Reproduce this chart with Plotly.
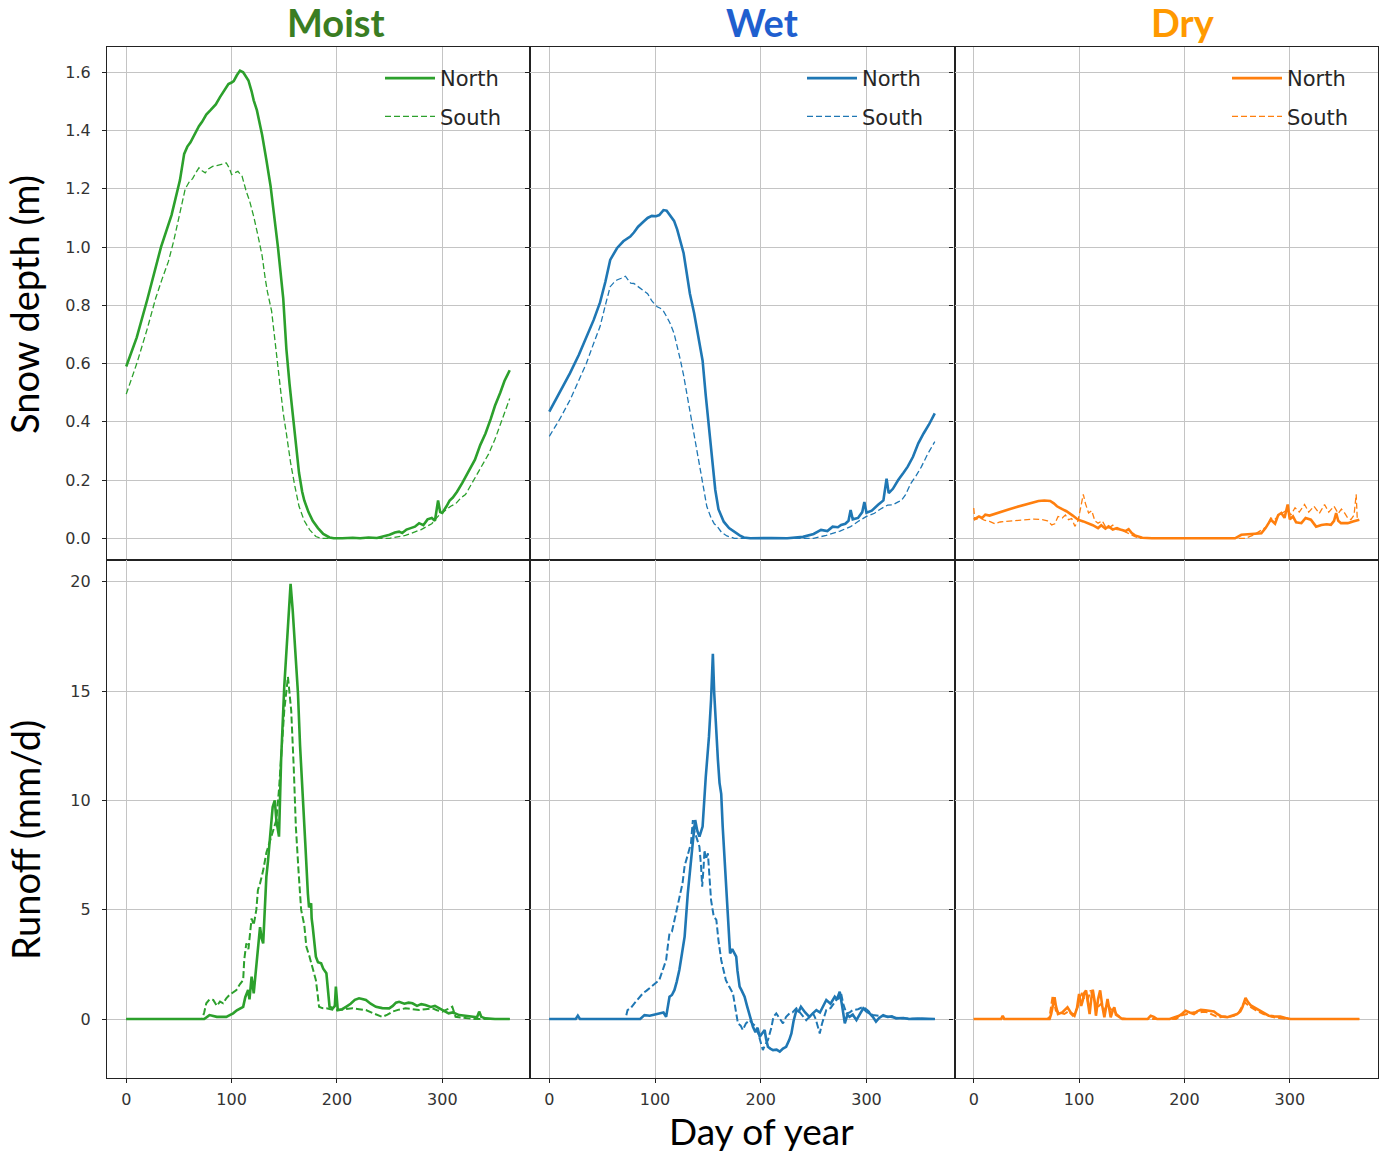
import plotly.graph_objects as go

# ---------------- data: snow depth (m) ----------------
moist_n_snow_day = [0, 10, 20, 33, 43, 51, 55, 58, 61, 65, 69, 72, 76, 80, 85, 89, 93, 97, 100, 102, 105, 108, 111, 114, 116, 119, 121, 124, 127, 129, 133, 137, 140, 144, 149, 152, 155, 158, 161, 164, 167, 169, 173, 177, 182, 187, 193, 197, 205, 215, 222, 230, 238, 245, 250, 255, 259, 262, 266, 270, 274, 278, 282, 286, 290, 293, 296, 298, 300, 304, 307, 310, 314, 319, 325, 331, 336, 341, 346, 350, 355, 359, 364]
moist_n_snow = [0.59, 0.69, 0.82, 1.0, 1.11, 1.23, 1.32, 1.345, 1.36, 1.39, 1.415, 1.43, 1.455, 1.47, 1.49, 1.515, 1.54, 1.56, 1.565, 1.57, 1.59, 1.606, 1.60, 1.585, 1.572, 1.535, 1.504, 1.47, 1.42, 1.385, 1.30, 1.21, 1.12, 1.0, 0.825, 0.65, 0.53, 0.42, 0.32, 0.225, 0.16, 0.13, 0.09, 0.06, 0.035, 0.015, 0.003, 0.0, 0.0, 0.002, 0.0, 0.003, 0.001, 0.008, 0.012, 0.02, 0.023, 0.018, 0.03, 0.035, 0.04, 0.052, 0.045, 0.065, 0.07, 0.06, 0.13, 0.09, 0.087, 0.11, 0.13, 0.14, 0.16, 0.19, 0.23, 0.27, 0.32, 0.36, 0.41, 0.455, 0.5, 0.54, 0.577]

moist_s_snow_day = [0, 10, 20, 28, 34, 40, 45, 49, 53, 56, 60, 63, 66, 69, 72, 75, 78, 82, 86, 90, 95, 98, 100, 103, 106, 110, 114, 117, 121, 125, 129, 132, 134, 138, 142, 146, 149, 152, 156, 160, 164, 169, 174, 180, 185, 250, 265, 280, 290, 297, 303, 308, 313, 318, 322, 330, 338, 344, 350, 355, 360, 364]
moist_s_snow = [0.495, 0.6, 0.72, 0.825, 0.89, 0.95, 1.02, 1.09, 1.16, 1.2, 1.225, 1.235, 1.255, 1.272, 1.262, 1.255, 1.268, 1.277, 1.28, 1.284, 1.289, 1.27, 1.249, 1.255, 1.26, 1.243, 1.19, 1.16, 1.105, 1.04, 0.97, 0.89, 0.847, 0.78, 0.65, 0.52, 0.43, 0.36, 0.26, 0.18, 0.11, 0.06, 0.03, 0.006, 0.0, 0.0, 0.01, 0.03, 0.05, 0.08, 0.098, 0.11, 0.12, 0.14, 0.15, 0.2, 0.25, 0.29, 0.34, 0.39, 0.44, 0.48]

wet_n_snow_day = [0, 10, 19.6, 28, 35, 42, 48, 53, 57.6, 61, 64, 70, 76.6, 80, 84, 89, 93, 97, 101, 104, 106, 108, 111, 113, 116, 118, 121, 124, 127, 130, 133, 137, 141, 145, 148, 151, 154, 157, 160, 163, 165, 170, 175, 180, 184, 190, 210, 225, 240, 250, 257, 263, 268, 273, 276, 280, 283, 285, 287, 292, 296, 298, 300, 305, 311, 316, 319, 321, 325, 330, 335, 339, 344, 349, 354, 359, 364.6]
wet_n_snow = [0.435, 0.5, 0.567, 0.63, 0.69, 0.75, 0.81, 0.88, 0.956, 0.98, 0.996, 1.02, 1.036, 1.05, 1.07, 1.087, 1.1, 1.107, 1.106, 1.11, 1.12, 1.127, 1.125, 1.116, 1.1, 1.09, 1.06, 1.024, 0.98, 0.91, 0.84, 0.773, 0.69, 0.61, 0.49, 0.383, 0.27, 0.166, 0.1, 0.07, 0.057, 0.035, 0.022, 0.01, 0.003, 0.0, 0.001, 0.0, 0.005, 0.015, 0.029, 0.025, 0.04, 0.038, 0.046, 0.05, 0.06, 0.097, 0.065, 0.07, 0.09, 0.125, 0.088, 0.095, 0.115, 0.13, 0.205, 0.155, 0.17, 0.2, 0.225, 0.246, 0.28, 0.326, 0.36, 0.39, 0.429]

wet_s_snow_day = [0, 10, 19.6, 28, 35, 42, 48, 53, 57.6, 61, 64, 68, 72, 74, 77, 80, 85, 89, 93, 97, 99, 102, 105, 108, 111, 114, 118, 121, 124, 127, 130, 133, 137, 140, 143, 146, 149, 153, 156, 159, 163, 168, 175, 250, 262, 275, 285, 293, 300, 307.6, 313, 320, 325, 330, 333, 337, 342, 347, 352, 358, 364.6]
wet_s_snow = [0.35, 0.41, 0.475, 0.54, 0.60, 0.67, 0.727, 0.8, 0.864, 0.878, 0.887, 0.893, 0.9, 0.89, 0.876, 0.875, 0.862, 0.853, 0.84, 0.815, 0.807, 0.795, 0.79, 0.78, 0.761, 0.74, 0.704, 0.66, 0.612, 0.56, 0.498, 0.43, 0.36, 0.29, 0.223, 0.16, 0.109, 0.07, 0.05, 0.04, 0.02, 0.008, 0.0, 0.0, 0.01, 0.025, 0.04, 0.06, 0.075, 0.086, 0.1, 0.114, 0.115, 0.125, 0.13, 0.15, 0.189, 0.215, 0.246, 0.29, 0.332]

dry_n_snow_day = [0, 5, 8, 11, 15, 22, 28, 33, 40, 49, 55, 61.5, 67, 72.6, 76, 79, 84, 88, 94, 99, 104, 109, 113, 118, 121, 125, 128, 132, 136, 140, 144, 147, 150, 153, 156, 160, 169, 248, 254, 265, 273, 277, 282, 286, 289, 292, 295, 298, 300, 303, 306, 311, 315, 320, 325, 330, 335, 339, 342, 344, 346, 348.6, 355, 360, 366]
dry_n_snow = [0.064, 0.075, 0.07, 0.081, 0.078, 0.087, 0.093, 0.099, 0.107, 0.116, 0.122, 0.128, 0.13, 0.128, 0.12, 0.11, 0.1, 0.093, 0.078, 0.064, 0.058, 0.052, 0.045, 0.035, 0.045, 0.033, 0.041, 0.03, 0.035, 0.029, 0.025, 0.031, 0.018, 0.01, 0.006, 0.002, 0.0, 0.0, 0.012, 0.015, 0.017, 0.035, 0.064, 0.05, 0.08, 0.087, 0.07, 0.116, 0.065, 0.075, 0.055, 0.052, 0.07, 0.064, 0.04, 0.046, 0.048, 0.046, 0.06, 0.087, 0.06, 0.052, 0.052, 0.058, 0.064]

dry_s_snow_day = [0, 1, 6, 10, 15, 20, 25, 33, 40, 49, 57, 65, 70, 74, 77, 80, 84, 87, 90, 93, 96, 99, 102, 104, 106, 109, 112, 115, 118, 122, 125, 128, 132, 136, 140, 145, 149, 153, 158, 258, 266, 273, 278, 282, 285.5, 290, 294, 298, 301, 305, 309, 314, 318, 323, 328, 333, 337, 342, 346, 349, 352, 355, 358, 361, 363, 364, 366]
dry_s_snow = [0.104, 0.064, 0.07, 0.062, 0.058, 0.05, 0.056, 0.058, 0.06, 0.064, 0.066, 0.064, 0.06, 0.046, 0.05, 0.075, 0.07, 0.08, 0.064, 0.068, 0.041, 0.06, 0.11, 0.151, 0.12, 0.087, 0.095, 0.06, 0.052, 0.06, 0.04, 0.035, 0.045, 0.03, 0.029, 0.02, 0.012, 0.006, 0.0, 0.0, 0.012, 0.029, 0.04, 0.07, 0.064, 0.08, 0.09, 0.099, 0.08, 0.105, 0.09, 0.116, 0.09, 0.11, 0.085, 0.116, 0.09, 0.11, 0.085, 0.1, 0.087, 0.07, 0.064, 0.08, 0.151, 0.07, 0.064]

# ---------------- data: runoff (mm/d) ----------------
moist_n_run_day = [0, 40, 74, 79, 86, 95, 101.5, 105, 108, 111, 113, 115.7, 117, 119, 121, 123.5, 125, 127, 128.5, 130, 131.5, 133, 134.5, 136, 138, 139, 141, 142.5, 145, 147, 150, 153.5, 156, 158, 160.5, 163, 165, 167.7, 170, 172.4, 173.5, 175.5, 176, 177, 180, 182, 185, 187, 190, 193, 196, 198, 199, 200.8, 205, 208.6, 213, 217, 221, 224, 227.5, 232, 237, 243, 249.6, 253, 256, 259, 264, 268, 271.7, 276, 280, 284, 289, 293, 297, 301, 306, 310, 316, 322, 328, 333, 335, 337, 341, 350, 364]
moist_n_run = [0, 0, 0, 0.18, 0.1, 0.1, 0.26, 0.4, 0.49, 0.56, 1.0, 1.33, 0.9, 1.94, 1.17, 2.7, 3.2, 4.2, 3.7, 3.46, 5.0, 6.5, 7.2, 8.03, 9.0, 9.7, 10.0, 9.1, 8.34, 11.84, 15.2, 17.9, 19.9, 18.7, 17.0, 14.9, 12.5, 10.3, 8.0, 5.75, 5.1, 5.29, 4.6, 4.22, 2.85, 2.6, 2.55, 2.3, 2.09, 0.56, 0.49, 0.6, 1.48, 0.41, 0.45, 0.56, 0.7, 0.88, 0.95, 0.92, 0.87, 0.7, 0.56, 0.5, 0.49, 0.6, 0.75, 0.79, 0.7, 0.75, 0.72, 0.6, 0.68, 0.64, 0.55, 0.6, 0.49, 0.4, 0.26, 0.3, 0.18, 0.15, 0.1, 0.08, 0.34, 0.1, 0.03, 0.0, 0.0]

moist_s_run_day = [0, 72, 74, 76, 79, 82.6, 86, 89, 92, 95, 98, 101, 104.6, 108, 111, 112, 114, 116, 119, 121, 123.5, 125, 127, 130, 133, 137.7, 140, 142.5, 145, 147, 150, 153.5, 155, 156.6, 159, 161, 163.5, 166, 169, 171, 174, 177, 180, 181.5, 183, 186, 190, 196, 202, 208, 215, 221, 227.5, 235, 243, 248, 252.7, 258, 265, 272, 278, 284, 290.6, 295, 300, 305, 309.5, 312.6, 318, 322, 330, 364]
moist_s_run = [0, 0, 0.3, 0.72, 0.9, 0.87, 0.6, 0.8, 0.72, 0.95, 1.1, 1.2, 1.33, 1.6, 1.78, 2.7, 3.46, 3.2, 4.6, 4.3, 5.0, 5.9, 6.2, 6.8, 7.6, 8.34, 8.7, 9.1, 10.5, 11.84, 14.1, 15.65, 15.0, 14.1, 11.5, 8.8, 6.8, 5.0, 4.3, 3.3, 2.85, 2.3, 1.78, 1.2, 0.56, 0.5, 0.49, 0.42, 0.41, 0.45, 0.49, 0.45, 0.41, 0.25, 0.1, 0.2, 0.34, 0.42, 0.49, 0.45, 0.41, 0.45, 0.49, 0.4, 0.34, 0.45, 0.56, 0.1, 0.06, 0.03, 0.0, 0.0]

wet_n_run_day = [0, 25, 27, 29, 86, 90, 95, 100, 104, 108, 110.5, 112, 113.7, 116, 118.4, 120.5, 123, 125.5, 128, 131, 134, 136, 138, 140, 142, 145, 148, 151, 153, 154.7, 156, 157.5, 159.5, 161, 162.6, 164, 165.8, 167.5, 169, 170, 171, 173, 176.8, 178, 180, 182, 184.7, 187, 189, 192.6, 195, 197, 199, 201, 203.7, 205, 206.8, 209, 211.6, 215, 218, 221, 224, 227, 229, 231, 233.7, 236, 238, 242, 246, 249, 252.6, 256, 259, 262, 266, 270, 272, 274.7, 277, 279.5, 282, 284, 287, 290.5, 294, 297, 300, 303, 306, 309, 312, 315.8, 320, 324, 328, 335, 340, 350, 364.7]
wet_n_run = [0, 0, 0.15, 0, 0, 0.18, 0.15, 0.2, 0.26, 0.3, 0.1, 0.5, 1.02, 1.1, 1.33, 1.7, 2.24, 3.0, 3.77, 5.75, 7.42, 8.2, 9.1, 8.6, 8.34, 8.8, 11.08, 12.9, 14.6, 16.7, 14.9, 13.3, 11.84, 10.8, 10.3, 8.8, 7.27, 6.0, 5.14, 4.0, 3.0, 3.2, 2.85, 2.2, 1.48, 1.3, 1.02, 0.6, 0.26, -0.35, -0.6, -0.4, -0.81, -0.7, -0.5, -0.9, -1.27, -1.35, -1.42, -1.4, -1.49, -1.35, -1.27, -0.95, -0.66, -0.1, 0.41, 0.35, 0.56, 0.3, 0.1, 0.25, 0.41, 0.3, 0.6, 0.87, 0.7, 1.02, 0.9, 1.25, 0.6, -0.2, 0.2, 0.1, 0.2, -0.05, 0.25, 0.49, 0.35, 0.26, 0.1, -0.12, 0.05, 0.18, 0.1, 0.12, 0.03, 0.05, 0.0, 0.02, 0.0]

wet_s_run_day = [0, 72, 74, 77, 80.5, 84, 88.4, 92, 96.3, 100, 104, 107, 110.5, 112, 113.7, 116, 118.4, 121, 123, 126, 128, 131, 134, 135.8, 137, 139, 142, 143.5, 144.6, 146, 146.8, 148, 150, 151.5, 153, 155.5, 158, 160, 162.6, 165, 167, 170, 173.7, 176, 178.4, 181, 183, 186, 189.5, 192, 195.8, 199, 202, 204, 206.8, 210, 212, 214.7, 218, 221, 224, 227.3, 230, 233.7, 237, 240, 243, 246, 249.5, 252, 255.8, 258, 262, 266, 271.5, 274, 276, 278, 281, 284, 287, 292, 297, 301, 306, 312, 319, 330, 340, 364.7]
wet_s_run = [0, 0, 0.41, 0.5, 0.72, 0.9, 1.17, 1.3, 1.48, 1.6, 1.78, 2.2, 2.7, 3.3, 3.92, 4.0, 4.53, 5.0, 5.44, 6.2, 7.0, 7.58, 8.03, 9.1, 8.6, 8.34, 7.88, 7.0, 6.05, 7.0, 7.73, 7.3, 7.58, 6.5, 5.44, 4.7, 4.53, 3.6, 2.7, 2.2, 1.78, 1.5, 1.17, 0.5, -0.2, -0.3, -0.5, -0.2, -0.05, -0.2, -0.35, -0.9, -1.42, -1.2, -0.96, -0.4, 0.1, 0.26, 0.0, -0.2, 0.1, 0.26, 0.3, 0.49, 0.3, 0.1, -0.05, 0.1, 0.26, 0.0, -0.66, -0.2, 0.41, 0.5, 0.87, 0.95, 1.17, 0.7, 0.26, 0.3, 0.41, 0.45, 0.56, 0.4, 0.18, 0.15, 0.1, 0.05, 0.02, 0.0]

dry_n_run_day = [0, 26, 27.5, 29, 72, 73.5, 76.7, 78, 80, 84, 89, 92, 95.6, 98, 100, 102, 103.5, 105, 106.6, 108, 110, 111.5, 113, 114.5, 116, 118, 120, 122, 124, 125.5, 127, 128.5, 130, 132, 133.4, 135, 138, 141, 165, 168, 171, 174, 186, 190, 195, 198, 201, 205, 209, 212, 215.5, 220, 225, 228, 231, 235, 240.7, 245, 250, 253, 255, 258, 260, 263, 267, 272, 276, 280, 285, 291, 296, 300.6, 366]
dry_n_run = [0, 0, 0.15, 0, 0, 0.23, 1.0, 0.6, 0.23, 0.3, 0.54, 0.3, 0.15, 0.5, 1.15, 0.6, 0.85, 1.2, 1.31, 0.8, 0.23, 0.9, 1.34, 0.9, 0.15, 0.9, 1.31, 0.6, 0.08, 0.5, 0.92, 0.5, 0.08, 0.4, 0.54, 0.2, 0.08, 0.0, 0, 0.15, 0.1, 0.0, 0, 0.08, 0.15, 0.25, 0.38, 0.3, 0.23, 0.35, 0.42, 0.4, 0.35, 0.35, 0.23, 0.12, 0.08, 0.15, 0.23, 0.35, 0.54, 0.97, 0.8, 0.62, 0.5, 0.38, 0.25, 0.15, 0.12, 0.11, 0.05, 0.0, 0.0]

dry_s_run_day = [0, 70, 72, 75, 76.5, 78, 82, 86, 90, 94, 96, 98.7, 102, 105, 108, 111, 114, 117.7, 121, 124, 127, 130, 133.4, 136, 140, 145, 192, 196.5, 200, 205, 209, 214, 218, 221.8, 226, 230, 234, 238, 243, 247, 251, 254, 257, 260, 263, 268, 275, 280, 285, 292, 300, 366]
dry_s_run = [0, 0, 0.1, 1.08, 0.7, 0.38, 0.3, 0.23, 0.35, 0.15, 0.3, 0.54, 1.23, 0.9, 0.85, 1.31, 0.9, 0.54, 0.7, 0.4, 0.69, 0.45, 0.38, 0.2, 0.05, 0.0, 0, 0.15, 0.2, 0.25, 0.31, 0.3, 0.33, 0.31, 0.2, 0.12, 0.08, 0.12, 0.1, 0.15, 0.25, 0.5, 0.77, 0.65, 0.54, 0.4, 0.23, 0.15, 0.08, 0.03, 0.0, 0.0]

# ---------------- labels / ticks ----------------
climates = ["Moist", "Wet", "Dry"]
climate_colors = ["#2ca02c", "#1f77b4", "#ff7f0e"]
title_colors = ["#3a7d22", "#1f5fcf", "#ff9900"]
series_names = ["North", "South"]
x_ticks = [0, 100, 200, 300]
snow_ticks = [0.0, 0.2, 0.4, 0.6, 0.8, 1.0, 1.2, 1.4, 1.6]
runoff_ticks = [0, 5, 10, 15, 20]

snow_series = [
    (moist_n_snow_day, moist_n_snow, moist_s_snow_day, moist_s_snow),
    (wet_n_snow_day, wet_n_snow, wet_s_snow_day, wet_s_snow),
    (dry_n_snow_day, dry_n_snow, dry_s_snow_day, dry_s_snow),
]
runoff_series = [
    (moist_n_run_day, moist_n_run, moist_s_run_day, moist_s_run),
    (wet_n_run_day, wet_n_run, wet_s_run_day, wet_s_run),
    (dry_n_run_day, dry_n_run, dry_s_run_day, dry_s_run),
]

# ---------------- layout geometry (pixels) ----------------
W, H = 1380, 1153
col_px = [(107, 530), (530, 954.5), (954.5, 1377.5)]
top_px = (47.3, 560)
bot_px = (560, 1078.3)


def px_x(a, b):
    return [a / W, b / W]


def px_y(top, bottom):
    return [1 - bottom / H, 1 - top / H]


fig = go.Figure()

legend_names = ["legend", "legend2", "legend3"]

for c in range(3):
    color = climate_colors[c]
    xa_top = "x" if c == 0 else f"x{c + 1}"
    ya_top = "y" if c == 0 else f"y{c + 1}"
    xa_bot = f"x{c + 4}"
    ya_bot = f"y{c + 4}"
    nd, nv, sd, sv = snow_series[c]
    fig.add_trace(go.Scatter(
        x=nd, y=nv, mode="lines", name=series_names[0],
        line=dict(color=color, width=2.6), xaxis=xa_top, yaxis=ya_top,
        legend=legend_names[c], legendgroup=f"n{c}", showlegend=True))
    fig.add_trace(go.Scatter(
        x=sd, y=sv, mode="lines", name=series_names[1],
        line=dict(color=color, width=1.3, dash="6px,3px"), xaxis=xa_top, yaxis=ya_top,
        legend=legend_names[c], legendgroup=f"s{c}", showlegend=True))
    nd, nv, sd, sv = runoff_series[c]
    fig.add_trace(go.Scatter(
        x=nd, y=nv, mode="lines", name=series_names[0],
        line=dict(color=color, width=2.6), xaxis=xa_bot, yaxis=ya_bot,
        showlegend=False))
    fig.add_trace(go.Scatter(
        x=sd, y=sv, mode="lines", name=series_names[1],
        line=dict(color=color, width=2.0, dash="7px,3px"), xaxis=xa_bot, yaxis=ya_bot,
        showlegend=False))

tick_font = dict(family="DejaVu Sans", size=16, color="#333333")
axis_common = dict(
    showline=True, linecolor="#222222", linewidth=1.2, mirror=True,
    showgrid=True, gridcolor="#c4c4c4", gridwidth=1,
    zeroline=False, ticks="outside", ticklen=4, tickwidth=1, tickcolor="#222222",
    tickfont=tick_font,
)

layout_axes = {}
for c in range(3):
    xd = px_x(*col_px[c])
    for r in range(2):
        idx = c + 1 + 3 * r
        xname = "xaxis" if idx == 1 else f"xaxis{idx}"
        yname = "yaxis" if idx == 1 else f"yaxis{idx}"
        yd = px_y(*top_px) if r == 0 else px_y(*bot_px)
        xref = "x" if idx == 1 else f"x{idx}"
        yref = "y" if idx == 1 else f"y{idx}"
        layout_axes[xname] = dict(
            axis_common, domain=xd, anchor=yref,
            range=[-18.25, 383.25], tickvals=x_ticks,
            showticklabels=(r == 1), ticklabelstandoff=2)
        if r == 0:
            layout_axes[yname] = dict(
                axis_common, domain=yd, anchor=xref,
                range=[-0.0745, 1.686], tickvals=snow_ticks,
                ticktext=[f"{v:.1f}" for v in snow_ticks],
                showticklabels=(c == 0), ticklabelstandoff=8)
        else:
            layout_axes[yname] = dict(
                axis_common, domain=yd, anchor=xref,
                range=[-2.71, 20.99], tickvals=runoff_ticks,
                showticklabels=(c == 0), ticklabelstandoff=8)

fig.update_layout(**layout_axes)

legend_style = dict(
    bgcolor="rgba(255,255,255,0)", borderwidth=0,
    font=dict(family="DejaVu Sans", size=21, color="#262626"),
    tracegroupgap=8, itemwidth=50, xanchor="left", yanchor="top",
    y=1 - 58 / H,
)
fig.update_layout(
    legend=dict(legend_style, x=380 / W),
    legend2=dict(legend_style, x=802 / W),
    legend3=dict(legend_style, x=1227 / W),
)

annotations = []
title_x = [336, 762, 1183]
for c in range(3):
    annotations.append(dict(
        text=f"<b>{climates[c]}</b>", x=title_x[c] / W, y=1 - 22 / H,
        xref="paper", yref="paper", showarrow=False, xanchor="center", yanchor="middle",
        font=dict(family="Lato", size=38, color=title_colors[c])))
annotations.append(dict(
    text="Snow depth (m)", x=24 / W, y=1 - 305 / H, xref="paper", yref="paper",
    showarrow=False, textangle=-90, xanchor="center", yanchor="middle",
    font=dict(family="Lato", size=38, color="#000000")))
annotations.append(dict(
    text="Runoff (mm/d)", x=25 / W, y=1 - 840 / H, xref="paper", yref="paper",
    showarrow=False, textangle=-90, xanchor="center", yanchor="middle",
    font=dict(family="Lato", size=38, color="#000000")))
annotations.append(dict(
    text="Day of year", x=761 / W, y=1 - 1130 / H, xref="paper", yref="paper",
    showarrow=False, xanchor="center", yanchor="middle",
    font=dict(family="Lato", size=37, color="#000000")))

fig.update_layout(
    width=W, height=H,
    margin=dict(l=0, r=0, t=0, b=0),
    paper_bgcolor="white", plot_bgcolor="white",
    annotations=annotations,
)

fig.write_html("out.html")
